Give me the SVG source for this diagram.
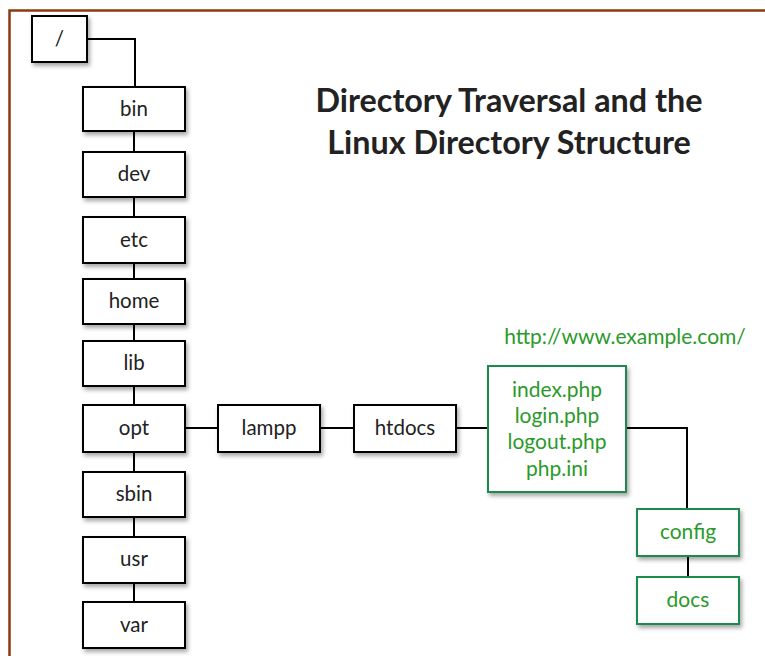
<svg xmlns="http://www.w3.org/2000/svg" width="765" height="656" viewBox="0 0 765 656">
<defs>
<filter id="sh" x="-20%" y="-20%" width="140%" height="150%">
<feDropShadow dx="2" dy="3" stdDeviation="2" flood-color="#000" flood-opacity="0.35"/>
</filter>
<style>
.b{fill:#fff;stroke:#000;stroke-width:2;filter:url(#sh)}
.g{fill:#fff;stroke:#1f8a4c;stroke-width:2;filter:url(#sh)}
.t{font-family:Lato,"Open Sans",sans-serif;font-size:20.5px;fill:#222;text-anchor:middle}
.gt{font-family:Lato,"Open Sans",sans-serif;font-size:21px;fill:#2a9a2a;text-anchor:middle}
.c{fill:none;stroke:#000;stroke-width:2}
.title{font-family:Lato,"Open Sans",sans-serif;font-size:32.3px;font-weight:bold;fill:#222;text-anchor:middle}
</style>
</defs>
<rect width="765" height="656" fill="#fff"/>
<path d="M9.5 660 V10.5 H770" fill="none" stroke="#8b3a12" stroke-width="2.5"/>
<g id="title">
<text class="title" x="509" y="112">Directory Traversal and the</text>
<text class="title" x="509" y="154">Linux Directory Structure</text>
</g>
<g id="connectors">
<path class="c" d="M87 39 H135 V87"/>
<path class="c" d="M134 131 V152 M134 197 V217 M134 263 V279 M134 324 V341 M134 386 V405 M134 452 V472 M134 517 V537 M134 583 V602"/>
<path class="c" d="M185 428 H218 M320 428 H354 M456 428 H488"/>
<path class="c" d="M626 428 H687 V509"/>
<path class="c" d="M688 556 V577"/>
</g>
<g id="root"><rect class="b" x="32" y="16" width="55" height="46"/><text class="t" x="59.5" y="46">/</text></g>
<g id="bin"><rect class="b" x="83" y="87" width="102" height="44"/><text class="t" x="134" y="116">bin</text></g>
<g id="dev"><rect class="b" x="83" y="152" width="102" height="45"/><text class="t" x="134" y="181">dev</text></g>
<g id="etc"><rect class="b" x="83" y="217" width="102" height="46"/><text class="t" x="134" y="247">etc</text></g>
<g id="home"><rect class="b" x="83" y="279" width="102" height="45"/><text class="t" x="134" y="308">home</text></g>
<g id="lib"><rect class="b" x="83" y="341" width="102" height="45"/><text class="t" x="134" y="370">lib</text></g>
<g id="opt"><rect class="b" x="83" y="405" width="102" height="47"/><text class="t" x="134" y="435">opt</text></g>
<g id="sbin"><rect class="b" x="83" y="472" width="102" height="45"/><text class="t" x="134" y="501">sbin</text></g>
<g id="usr"><rect class="b" x="83" y="537" width="102" height="46"/><text class="t" x="134" y="566">usr</text></g>
<g id="var"><rect class="b" x="83" y="602" width="102" height="46"/><text class="t" x="134" y="632">var</text></g>
<g id="lampp"><rect class="b" x="218" y="405" width="102" height="47"/><text class="t" x="269" y="435">lampp</text></g>
<g id="htdocs"><rect class="b" x="354" y="405" width="102" height="47"/><text class="t" x="405" y="435">htdocs</text></g>
<g id="url"><text class="gt" x="625" y="344">http://www.example.com/</text></g>
<g id="webroot"><rect class="g" x="488" y="366" width="138" height="126"/>
<text class="gt" x="557" y="397">index.php</text>
<text class="gt" x="557" y="423">login.php</text>
<text class="gt" x="557" y="449">logout.php</text>
<text class="gt" x="557" y="476">php.ini</text></g>
<g id="config"><rect class="g" x="637" y="509" width="102" height="47"/><text class="gt" x="688" y="539">config</text></g>
<g id="docs"><rect class="g" x="637" y="577" width="102" height="47"/><text class="gt" x="688" y="607">docs</text></g>
</svg>
